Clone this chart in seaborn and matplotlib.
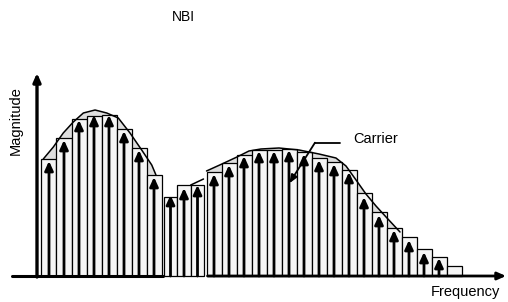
import matplotlib
matplotlib.use('Agg')
import numpy as np
import pandas as pd
import matplotlib.pyplot as plt
import seaborn as sns

# carrier positions (1 unit = 1 carrier spacing) and magnitudes
left_freq = [1, 2, 3, 4, 5, 6, 7, 8]
left_mag = [11.7, 13.8, 15.7, 16.0, 16.1, 14.7, 12.8, 10.1]
left_carrier = [11.5, 13.6, 15.6, 16.1, 16.1, 14.5, 12.6, 9.9]

nbi_freq = [9.1, 10.0, 10.9]
nbi_mag = [7.9, 9.1, 9.1]
nbi_carrier = [8.1, 8.8, 9.1]

right_freq = list(range(12, 29))
right_mag = [10.4, 11.3, 12.1, 12.6, 12.6, 12.7, 12.4, 11.8, 11.4, 10.6,
             8.3, 6.4, 4.8, 3.9, 2.7, 1.9, 1.0]
right_carrier = [10.2, 11.1, 12.0, 12.5, 12.5, 12.6, 12.2, 11.6, 11.2, 10.4,
                 7.9, 6.1, 4.6, 3.6, 2.4, 1.8, 0]

# spectral envelopes
left_env_f = [0.62, 1.29, 1.95, 2.62, 3.29, 4.07, 4.85, 5.62, 6.4, 7.18, 7.85, 8.13]
left_env_m = [11.7, 12.9, 14.3, 15.4, 16.3, 16.6, 16.3, 15.8, 14.3, 12.6, 11.1, 10.1]
nbi_env_f = [10.45, 11.3]
nbi_env_m = [9.1, 9.7]
right_env_f = [11.5, 12.53, 13.53, 14.33, 15.13, 16.33, 17.67, 19.0, 20.13,
               20.8, 21.47, 22.13, 22.8, 23.47, 24.4]
right_env_m = [10.5, 11.2, 11.9, 12.5, 12.7, 12.8, 12.6, 12.2, 11.8,
               11.0, 9.6, 8.2, 7.0, 5.9, 4.4]

sns.set_style('white')
plt.rcParams['font.family'] = ['Liberation Sans', 'DejaVu Sans']
plt.rcParams['text.color'] = 'black'

fig = plt.figure(figsize=(5.08, 3.02), dpi=100)
ax = fig.add_axes([0, 0, 1, 1])

groups = [(left_freq, left_mag, left_carrier, left_env_f, left_env_m),
          (nbi_freq, nbi_mag, nbi_carrier, nbi_env_f, nbi_env_m),
          (right_freq, right_mag, right_carrier, right_env_f, right_env_m)]

for freq, mag, carrier, env_f, env_m in groups:
    if len(env_f) > 2:
        ax.fill_between(env_f, 0, env_m, color='#dedede', lw=0, zorder=1)
    df = pd.DataFrame({'f': freq, 'm': mag})
    sns.barplot(data=df, x='f', y='m', native_scale=True, width=1.0,
                color='#f5f5f5', saturation=1, edgecolor='black',
                linewidth=0.9, errorbar=None, ax=ax, zorder=2)
    env = pd.DataFrame({'f': env_f, 'm': env_m})
    sns.lineplot(data=env, x='f', y='m', color='black', lw=1.1,
                 sort=False, ax=ax, zorder=3)
    for f, c in zip(freq, carrier):
        if c <= 0:
            continue
        ax.annotate('', xy=(f, c), xytext=(f, 0),
                    arrowprops=dict(arrowstyle='-|>,head_length=0.55,head_width=0.25',
                                    lw=2.0, color='black', mutation_scale=10,
                                    shrinkA=0, shrinkB=0), zorder=4)

# axes
ax.annotate('', xy=(0.2, 20.3), xytext=(0.2, -0.1),
            arrowprops=dict(arrowstyle='-|>,head_length=0.5,head_width=0.22',
                            lw=2.4, color='black', mutation_scale=10,
                            shrinkA=0, shrinkB=0), zorder=5)
ax.plot([-1.47, 8.6], [0, 0], color='black', lw=2.2, zorder=5)
ax.annotate('', xy=(31.47, 0), xytext=(11.57, 0),
            arrowprops=dict(arrowstyle='-|>,head_length=0.5,head_width=0.22',
                            lw=2.0, color='black', mutation_scale=10,
                            shrinkA=0, shrinkB=0), zorder=5)

# carrier pointer
ax.plot([20.4, 18.73], [13.33, 13.33], color='black', lw=1.3, zorder=6)
ax.annotate('', xy=(17.02, 9.27), xytext=(18.73, 13.33),
            arrowprops=dict(arrowstyle='-|>,head_length=0.5,head_width=0.2',
                            lw=1.3, color='black', mutation_scale=10,
                            shrinkA=0, shrinkB=0), zorder=6)

ax.text(21.27, 13.7, 'Carrier', fontsize=10.5, color='black', ha='left', va='center')
ax.text(9.93, 25.9, 'NBI', fontsize=10, color='black', ha='center', va='center')
ax.text(-1.2, 15.5, 'Magnitude', fontsize=10.5, color='black', ha='center', va='center', rotation=90)
ax.text(28.73, -1.6, 'Frequency', fontsize=10.5, color='black', ha='center', va='center')

ax.set_xlim(-34 / 15, (508 - 34) / 15)
ax.set_ylim(-2.6, 27.6)
ax.axis('off')

fig.savefig('out.png', dpi=100)
